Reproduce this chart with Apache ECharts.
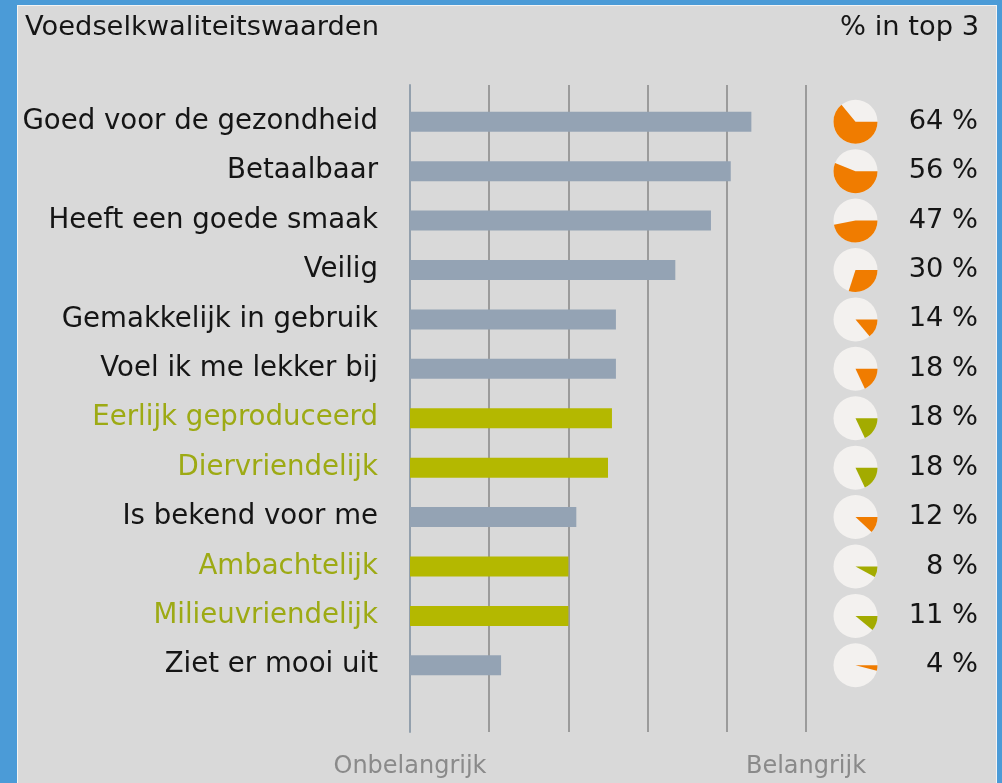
<!DOCTYPE html>
<html>
<head>
<meta charset="utf-8">
<script src="https://cdn.jsdelivr.net/npm/echarts@6/dist/echarts.min.js"></script>
<style>
  html, body { margin: 0; padding: 0; width: 1002px; height: 783px; overflow: hidden; background: #4b9bd7; }
  #bg { position: absolute; left: 17px; top: 5px; width: 980px; height: 778px; box-sizing: border-box;
        background: #d9d9d9; border-left: 1px solid #f4f4f4; border-top: 1px solid #f4f4f4; border-right: 1px solid #f4f4f4; }
  #chart { position: absolute; left: 0; top: 0; width: 1002px; height: 783px; }
</style>
</head>
<body>
<div id="bg"></div>
<div id="chart"></div>
<script>
// ---- data ----
const categories = [
  'Goed voor de gezondheid', 'Betaalbaar', 'Heeft een goede smaak', 'Veilig',
  'Gemakkelijk in gebruik', 'Voel ik me lekker bij', 'Eerlijk geproduceerd', 'Diervriendelijk',
  'Is bekend voor me', 'Ambachtelijk', 'Milieuvriendelijk', 'Ziet er mooi uit'
];
const importance = [4.31, 4.05, 3.80, 3.35, 2.60, 2.60, 2.55, 2.50, 2.10, 2.00, 2.00, 1.15];
const topThreeShare = [64, 56, 47, 30, 14, 18, 18, 18, 12, 8, 11, 4];
const kind = ['g', 'g', 'g', 'g', 'g', 'g', 'o', 'o', 'g', 'o', 'o', 'g']; // g = general, o = ethical
const scaleTickLabels = ['Onbelangrijk', '', '', '', '', 'Belangrijk'];

// ---- styles ----
const FONT = 'DejaVu Sans';
const barColor = { g: '#94a3b4', o: '#b4b800' };
const labelColor = { g: '#151515', o: '#9daa14' };
const pieColor = { g: '#f07c00', o: '#a3ab00' };
const pieBg = '#f3f1ef';

const chart = echarts.init(document.getElementById('chart'), null, { renderer: 'canvas' });

const option = {
  backgroundColor: 'transparent',
  animation: false,
  title: [
    { text: 'Voedselkwaliteitswaarden', left: 20, top: 9,
      textStyle: { fontFamily: FONT, fontSize: 27.3, fontWeight: 'normal', color: '#151515' } },
    { text: '% in top 3', right: 18, top: 9,
      textStyle: { fontFamily: FONT, fontSize: 27.3, fontWeight: 'normal', color: '#151515' } }
  ],
  grid: [
    { left: 410, right: 196, top: 97, bottom: 93, containLabel: false },
    { left: 410, right: 196, top: 85, bottom: 51, containLabel: false }
  ],
  xAxis: [
    { gridIndex: 0, type: 'value', min: 0, max: 5, interval: 1, show: false },
    { gridIndex: 1, type: 'value', min: 0, max: 5, interval: 1,
      axisLine: { show: false }, axisTick: { show: false },
      splitLine: { show: true, lineStyle: { color: '#9b9b9b', width: 2 } },
      axisLabel: { show: true, margin: 23, showMinLabel: true, showMaxLabel: true,
        fontFamily: FONT, fontSize: 24, color: '#8a8a8a',
        formatter: (v) => scaleTickLabels[Math.round(v)] || '' } }
  ],
  yAxis: [
    { gridIndex: 0, type: 'category', data: categories, inverse: true,
      axisLine: { show: false }, axisTick: { show: false }, splitLine: { show: false },
      axisLabel: { margin: 32, fontFamily: FONT, fontSize: 27.6,
        color: (value, index) => labelColor[kind[index]] } },
    { gridIndex: 1, type: 'value', min: 0, max: 1, axisLabel: { show: false },
      axisTick: { show: false }, splitLine: { show: false },
      axisLine: { show: true, lineStyle: { color: '#93a0ad', width: 2 } } }
  ],
  series: [
    { type: 'bar', xAxisIndex: 0, yAxisIndex: 0, barWidth: 20,
      data: importance.map((v, i) => ({ value: v, itemStyle: { color: barColor[kind[i]] } })) },
    { type: 'custom', xAxisIndex: 0, yAxisIndex: 0, clip: false,
      data: topThreeShare.map((s, i) => [5, i, s]),
      encode: { x: 0, y: 1 },
      renderItem: function (params, api) {
        const i = api.value(1);
        const s = api.value(2);
        const p = api.coord([5, i]);
        const cx = p[0] + 49.5, cy = p[1];
        const r = 22;
        const col = pieColor[kind[i]];
        return {
          type: 'group',
          children: [
            { type: 'circle', shape: { cx: cx, cy: cy, r: r },
              style: { fill: pieBg } },
            { type: 'sector', shape: { cx: cx, cy: cy, r0: 0, r: r, startAngle: 0,
                endAngle: Math.PI * 2 * s / 100, clockwise: true },
              style: { fill: col } },
            { type: 'text', x: 978, y: cy,
              style: { text: s + ' %', fontFamily: FONT, fontSize: 27.3, fill: '#151515',
                align: 'right', verticalAlign: 'middle' } }
          ]
        };
      }
    }
  ]
};
chart.setOption(option);
</script>
</body>
</html>
